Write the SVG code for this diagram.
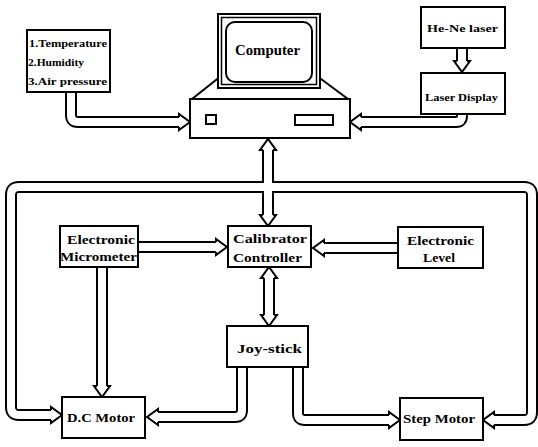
<svg xmlns="http://www.w3.org/2000/svg" xmlns:xlink="http://www.w3.org/1999/xlink" width="538" height="447" viewBox="0 0 538 447">
<style>
.case{fill:none;stroke:#000;stroke-width:12}
.core{fill:none;stroke:#fff;stroke-width:8}
.head{fill:#fff;stroke:#000;stroke-width:2;stroke-linejoin:miter}
.box{fill:#fff;stroke:#000;stroke-width:2}
.ln{fill:none;stroke:#000;stroke-width:2}
.t{font-family:"Liberation Serif",serif;font-weight:bold;font-size:12px;fill:#000}
.s{font-size:10px}
</style>
<defs>
<path id="hd" d="M-11,-5 L-11,-8 L0,0 L-11,8 L-11,5"/>
<path id="p1" d="M71,92 V115 Q71,122 78,122 H179"/>
<path id="p2" d="M462,114 V116 Q462,122 456,122 H361"/>
<path id="p3" d="M462,48 V61"/>
<path id="p4" d="M268,150 V215"/>
<path id="p5" d="M51,415 H19 Q11,415 11,407 V195 Q11,187 19,187 H524 Q532,187 532,195 V412 Q532,420 524,420 H494"/>
<path id="p6" d="M138,247 H216"/>
<path id="p7" d="M398,248 H324"/>
<path id="p8" d="M102,267 V386"/>
<path id="p9" d="M269,278 V315"/>
<path id="p10" d="M242,367 V410 Q242,417 235,417 H158"/>
<path id="p11" d="M298,367 V413 Q298,420 305,420 H389"/>
</defs>
<rect width="538" height="447" fill="#fff"/>
<g id="connectors">
<use href="#p1" class="case"/><use href="#p2" class="case"/><use href="#p3" class="case"/><use href="#p4" class="case"/><use href="#p5" class="case"/><use href="#p6" class="case"/><use href="#p7" class="case"/><use href="#p8" class="case"/><use href="#p9" class="case"/><use href="#p10" class="case"/><use href="#p11" class="case"/>
<use href="#p1" class="core"/><use href="#p2" class="core"/><use href="#p3" class="core"/><use href="#p4" class="core"/><use href="#p5" class="core"/><use href="#p6" class="core"/><use href="#p7" class="core"/><use href="#p8" class="core"/><use href="#p9" class="core"/><use href="#p10" class="core"/><use href="#p11" class="core"/>
<use href="#hd" class="head" transform="translate(190,122)"/>
<use href="#hd" class="head" transform="translate(350,122) rotate(180)"/>
<use href="#hd" class="head" transform="translate(462,72) rotate(90)"/>
<use href="#hd" class="head" transform="translate(268,139) rotate(-90)"/>
<use href="#hd" class="head" transform="translate(268,226) rotate(90)"/>
<use href="#hd" class="head" transform="translate(62,415)"/>
<use href="#hd" class="head" transform="translate(483,420) rotate(180)"/>
<use href="#hd" class="head" transform="translate(227,247)"/>
<use href="#hd" class="head" transform="translate(313,248) rotate(180)"/>
<use href="#hd" class="head" transform="translate(102,397) rotate(90)"/>
<use href="#hd" class="head" transform="translate(269,267) rotate(-90)"/>
<use href="#hd" class="head" transform="translate(269,326) rotate(90)"/>
<use href="#hd" class="head" transform="translate(147,417) rotate(180)"/>
<use href="#hd" class="head" transform="translate(400,420)"/>
</g>
<g id="sensors">
<rect class="box" x="27" y="30" width="83" height="62"/>
<text class="t s" x="29" y="47" textLength="78" lengthAdjust="spacingAndGlyphs">1.Temperature</text>
<text class="t s" x="28" y="66" textLength="56" lengthAdjust="spacingAndGlyphs">2.Humidity</text>
<text class="t s" x="28" y="85" textLength="79" lengthAdjust="spacingAndGlyphs">3.Air pressure</text>
</g>
<g id="computer">
<path class="ln" d="M221,76 L192,99 M317,76 L348,99"/>
<rect class="box" x="190" y="99" width="160" height="39"/>
<rect class="box" x="206" y="115" width="10" height="9"/>
<rect class="box" x="295" y="115" width="38" height="10"/>
<rect class="box" x="218" y="14" width="102" height="74"/>
<rect class="ln" x="221.5" y="17.5" width="95" height="67" style="stroke-width:1.5"/>
<rect class="box" x="226" y="22" width="86" height="60" rx="9"/>
<text class="t" x="235" y="55" textLength="65" lengthAdjust="spacingAndGlyphs" style="font-size:14px">Computer</text>
</g>
<g id="hene">
<rect class="box" x="421" y="7" width="84" height="41"/>
<text class="t s" x="427" y="32" textLength="71" lengthAdjust="spacingAndGlyphs">He-Ne laser</text>
</g>
<g id="laserdisplay">
<rect class="box" x="421" y="73" width="84" height="41"/>
<text class="t s" x="425" y="101" textLength="73" lengthAdjust="spacingAndGlyphs">Laser Display</text>
</g>
<g id="micrometer">
<rect class="box" x="60" y="226" width="78" height="41"/>
<text class="t" x="67" y="244" textLength="68" lengthAdjust="spacingAndGlyphs">Electronic</text>
<text class="t" x="60" y="261" textLength="77" lengthAdjust="spacingAndGlyphs">Micrometer</text>
</g>
<g id="calibrator">
<rect class="box" x="228" y="226" width="83" height="41"/>
<text class="t" x="233" y="243" textLength="74" lengthAdjust="spacingAndGlyphs">Calibrator</text>
<text class="t" x="233" y="262" textLength="69" lengthAdjust="spacingAndGlyphs">Controller</text>
</g>
<g id="level">
<rect class="box" x="398" y="227" width="85" height="41"/>
<text class="t" x="407" y="245" textLength="67" lengthAdjust="spacingAndGlyphs">Electronic</text>
<text class="t" x="423" y="262" textLength="32" lengthAdjust="spacingAndGlyphs">Level</text>
</g>
<g id="joystick">
<rect class="box" x="227" y="326" width="81" height="41"/>
<text class="t" x="237" y="353" textLength="65" lengthAdjust="spacingAndGlyphs">Joy-stick</text>
</g>
<g id="dcmotor">
<rect class="box" x="62" y="397" width="83" height="41"/>
<text class="t" x="67" y="422" textLength="68" lengthAdjust="spacingAndGlyphs">D.C Motor</text>
</g>
<g id="stepmotor">
<rect class="box" x="400" y="398" width="83" height="42"/>
<text class="t" x="403" y="423" textLength="72" lengthAdjust="spacingAndGlyphs">Step Motor</text>
</g>
</svg>
